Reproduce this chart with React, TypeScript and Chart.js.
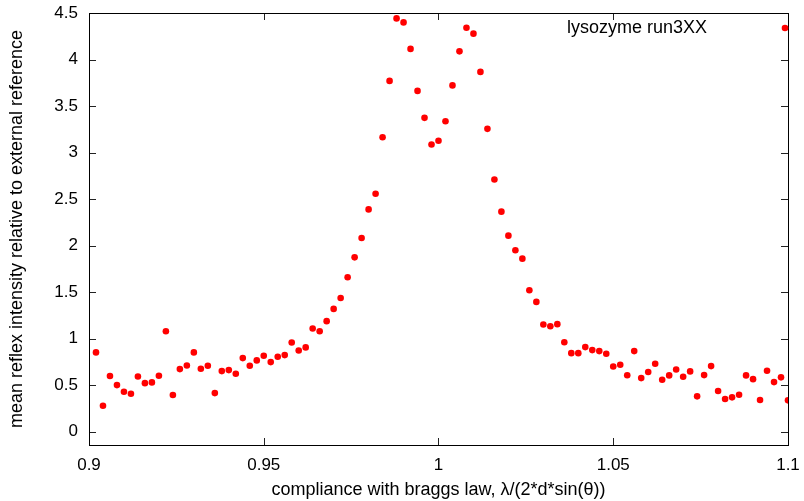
import React, { useEffect, useRef } from "react";
import { Chart, registerables } from "chart.js";

Chart.register(...registerables);

const xValues = [
  0.902, 0.904, 0.906, 0.908, 0.91, 0.912, 0.914, 0.916, 0.918, 0.92,
  0.922, 0.924, 0.926, 0.928, 0.93, 0.932, 0.934, 0.936, 0.938, 0.94,
  0.942, 0.944, 0.946, 0.948, 0.95, 0.952, 0.954, 0.956, 0.958, 0.96,
  0.962, 0.964, 0.966, 0.968, 0.97, 0.972, 0.974, 0.976, 0.978, 0.98,
  0.982, 0.984, 0.986, 0.988, 0.99, 0.992, 0.994, 0.996, 0.998, 1.0,
  1.002, 1.004, 1.006, 1.008, 1.01, 1.012, 1.014, 1.016, 1.018, 1.02,
  1.022, 1.024, 1.026, 1.028, 1.03, 1.032, 1.034, 1.036, 1.038, 1.04,
  1.042, 1.044, 1.046, 1.048, 1.05, 1.052, 1.054, 1.056, 1.058, 1.06,
  1.062, 1.064, 1.066, 1.068, 1.07, 1.072, 1.074, 1.076, 1.078, 1.08,
  1.082, 1.084, 1.086, 1.088, 1.09, 1.092, 1.094, 1.096, 1.098, 1.1,
];

const yValues = [
  0.852, 0.279, 0.598, 0.501, 0.429, 0.408, 0.594, 0.522, 0.53, 0.601,
  1.08, 0.394, 0.673, 0.712, 0.852, 0.676, 0.708, 0.415, 0.651, 0.662,
  0.622, 0.791, 0.708, 0.766, 0.816, 0.748, 0.805, 0.823, 0.959, 0.873,
  0.906, 1.109, 1.08, 1.188, 1.32, 1.437, 1.66, 1.874, 2.082, 2.389,
  2.558, 3.165, 3.77, 4.442, 4.399, 4.114, 3.663, 3.373, 3.087, 3.127,
  3.337, 3.722, 4.088, 4.342, 4.278, 3.867, 3.255, 2.711, 2.365, 2.107,
  1.95, 1.86, 1.52, 1.395, 1.152, 1.134, 1.156, 0.962, 0.844, 0.844,
  0.909, 0.877, 0.866, 0.837, 0.701, 0.719, 0.606, 0.866, 0.576, 0.641,
  0.73, 0.558, 0.605, 0.669, 0.59, 0.648, 0.38, 0.608, 0.705, 0.437,
  0.351, 0.369, 0.397, 0.605, 0.565, 0.34, 0.655, 0.533, 0.584, 0.337,
];

const xTickValues = [0.9, 0.95, 1.0, 1.05, 1.1];
const xTickLabels = ["0.9", "0.95", "1", "1.05", "1.1"];
const yTickValues = [0, 0.5, 1, 1.5, 2, 2.5, 3, 3.5, 4, 4.5];
const yTickLabels = ["0", "0.5", "1", "1.5", "2", "2.5", "3", "3.5", "4", "4.5"];

const seriesLabel = "lysozyme run3XX";
const xTitle = "compliance with braggs law, \u03bb/(2*d*sin(\u03b8))";
const yTitle = "mean reflex intensity relative to external reference";

const FONT = "'Liberation Sans', Arial, sans-serif";
const RED = "#ff0000";

const framePlugin = {
  id: "gnuFrame",
  beforeDatasetsDraw(chart: any) {
    const { ctx, chartArea } = chart;
    const { left, right, top, bottom } = chartArea;
    const xs = chart.scales.x;
    const ys = chart.scales.y;
    const tl = 7;
    ctx.save();
    ctx.strokeStyle = "#222";
    ctx.lineWidth = 1;
    ctx.beginPath();
    xTickValues.forEach((v) => {
      const px = Math.round(xs.getPixelForValue(v)) + 0.5;
      ctx.moveTo(px, bottom);
      ctx.lineTo(px, bottom - tl);
      ctx.moveTo(px, top);
      ctx.lineTo(px, top + tl);
    });
    yTickValues.forEach((v) => {
      const py = Math.round(ys.getPixelForValue(v)) + 0.5;
      ctx.moveTo(left, py);
      ctx.lineTo(left + tl, py);
      ctx.moveTo(right, py);
      ctx.lineTo(right - tl, py);
    });
    ctx.stroke();
    ctx.strokeStyle = "#000";
    ctx.strokeRect(Math.round(left) + 0.5, Math.round(top) + 0.5, Math.round(right - left), Math.round(bottom - top));
    ctx.restore();
  },
  afterDraw(chart: any) {
    const { ctx, chartArea } = chart;
    ctx.save();
    ctx.font = `18px ${FONT}`;
    ctx.fillStyle = "#000";
    ctx.textAlign = "right";
    ctx.textBaseline = "middle";
    const ly = chartArea.top + 15;
    ctx.fillText(seriesLabel, chartArea.right - 81, ly);
    ctx.fillStyle = RED;
    ctx.beginPath();
    ctx.arc(chartArea.right - 3, ly, 3.3, 0, Math.PI * 2);
    ctx.fill();
    ctx.restore();
  },
};

const noPad = (s: any) => {
  s.paddingLeft = 0;
  s.paddingRight = 0;
  s.paddingTop = 0;
  s.paddingBottom = 0;
};

export default function App() {
  const ref = useRef<HTMLCanvasElement | null>(null);
  useEffect(() => {
    if (!ref.current) return;
    const chart = new Chart(ref.current, {
      type: "scatter",
      data: {
        datasets: [
          {
            label: seriesLabel,
            data: xValues.map((x, i) => ({ x, y: yValues[i] })),
            backgroundColor: RED,
            borderWidth: 0,
            pointRadius: 3.3,
            pointHoverRadius: 3.3,
          },
        ],
      },
      options: {
        animation: false,
        responsive: true,
        maintainAspectRatio: false,
        layout: { padding: { top: 13, right: 16, left: 0, bottom: 0 } },
        plugins: { legend: { display: false }, tooltip: { enabled: false } },
        scales: {
          x: {
            type: "linear",
            min: 0.9,
            max: 1.1,
            grid: { display: false, drawTicks: false },
            border: { display: false },
            afterBuildTicks: (s: any) => {
              s.ticks = xTickValues.map((v) => ({ value: v }));
            },
            afterFit: (s: any) => {
              s.height = 56;
              noPad(s);
            },
            ticks: {
              padding: 10,
              color: "#000",
              font: { family: FONT, size: 17 },
              maxRotation: 0,
              autoSkip: false,
              callback: (_v: any, i: number) => xTickLabels[i],
            },
            title: {
              display: true,
              text: xTitle,
              color: "#000",
              font: { family: FONT, size: 18 },
              padding: { top: 0, bottom: 0 },
            },
          },
          y: {
            type: "linear",
            min: -0.143,
            max: 4.5,
            grid: { display: false, drawTicks: false },
            border: { display: false },
            afterBuildTicks: (s: any) => {
              s.ticks = yTickValues.map((v) => ({ value: v }));
            },
            afterFit: (s: any) => {
              s.width = 89;
              noPad(s);
            },
            ticks: {
              padding: 11,
              color: "#000",
              font: { family: FONT, size: 17 },
              autoSkip: false,
              callback: (_v: any, i: number) => yTickLabels[i],
            },
            title: {
              display: true,
              text: yTitle,
              color: "#000",
              font: { family: FONT, size: 18 },
              padding: { top: 6, bottom: 0 },
            },
          },
        },
      },
      plugins: [framePlugin],
    });
    return () => chart.destroy();
  }, []);
  return (
    <div style={{ position: "fixed", left: 0, top: 0, width: 804, height: 501, background: "#fff" }}>
      <canvas ref={ref} />
    </div>
  );
}
